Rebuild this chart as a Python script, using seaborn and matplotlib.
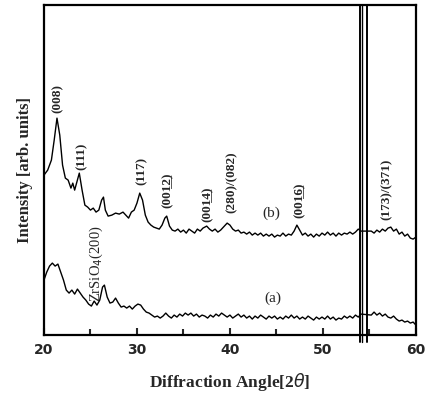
import numpy as np
import pandas as pd
import matplotlib
matplotlib.use("Agg")
import matplotlib.pyplot as plt
import seaborn as sns

# ---- data (2theta, intensity in arb. units) ----
two_theta_b = [20.0, 20.4, 20.8, 21.1, 21.4, 21.7, 22.0, 22.3, 22.6, 22.9, 23.1, 23.3, 23.6, 23.8,
               24.1, 24.4, 24.7, 25.0, 25.3, 25.6, 25.9, 26.2, 26.4, 26.6, 26.9, 27.3, 27.7, 28.1,
               28.5, 28.8, 29.1, 29.4, 29.7, 30.0, 30.3, 30.6, 30.9, 31.2, 31.5, 31.8, 32.1, 32.4,
               32.7, 33.0, 33.2, 33.5, 33.8, 34.1, 34.4, 34.7, 35.0, 35.3, 35.6, 35.9, 36.2, 36.5,
               36.8, 37.1, 37.5, 37.8, 38.1, 38.4, 38.7, 39.0, 39.3, 39.7, 40.0, 40.3, 40.6, 40.9,
               41.2, 41.5, 41.8, 42.1, 42.4, 42.7, 43.0, 43.3, 43.6, 43.9, 44.2, 44.5, 44.8, 45.1,
               45.4, 45.7, 46.0, 46.3, 46.6, 46.9, 47.2, 47.5, 47.8, 48.1, 48.4, 48.7, 49.0, 49.3,
               49.6, 49.9, 50.2, 50.5, 50.8, 51.1, 51.4, 51.7, 52.0, 52.3, 52.6, 52.9, 53.2, 53.5,
               53.8, 54.1, 55.2, 55.5, 55.8, 56.1, 56.4, 56.7, 57.0, 57.3, 57.6, 57.9, 58.2, 58.5,
               58.8, 59.1, 59.4, 59.7, 60.0]
intensity_b = [160, 165, 175, 195, 217, 200, 170, 157, 155, 147, 152, 145, 155, 162,
               145, 130, 128, 125, 127, 123, 125, 135, 138, 125, 119, 120, 122, 121,
               123, 120, 117, 123, 125, 132, 142, 135, 120, 113, 110, 108, 107, 106,
               110, 117, 119, 109, 105, 104, 106, 103, 105, 102, 106, 104, 102, 106,
               104, 107, 109, 106, 104, 106, 103, 105, 108, 112, 110, 106, 104, 105,
               102, 103, 101, 103, 100, 102, 100, 102, 99, 101, 99, 101, 98, 100,
               99, 102, 99, 101, 100, 104, 110, 105, 100, 102, 99, 101, 98, 101,
               99, 102, 100, 103, 100, 102, 99, 102, 100, 102, 101, 103, 101, 103,
               106, 104, 104, 102, 105, 103, 106, 104, 107, 108, 104, 106, 101, 103,
               99, 101, 97, 96, 98]

two_theta_a = [20.0, 20.3, 20.6, 20.9, 21.2, 21.5, 21.8, 22.1, 22.4, 22.7, 23.0, 23.3, 23.6, 23.9,
               24.2, 24.5, 24.8, 25.1, 25.4, 25.7, 26.0, 26.3, 26.5, 26.8, 27.1, 27.4, 27.7, 28.0,
               28.3, 28.6, 28.9, 29.2, 29.5, 29.8, 30.1, 30.4, 30.7, 31.0, 31.3, 31.6, 31.9, 32.2,
               32.5, 32.8, 33.1, 33.4, 33.7, 34.0, 34.3, 34.6, 34.9, 35.2, 35.5, 35.8, 36.1, 36.4,
               36.7, 37.0, 37.3, 37.6, 37.9, 38.2, 38.5, 38.8, 39.1, 39.4, 39.7, 40.0, 40.3, 40.6,
               40.9, 41.2, 41.5, 41.8, 42.1, 42.4, 42.7, 43.0, 43.3, 43.6, 43.9, 44.2, 44.5, 44.8,
               45.1, 45.4, 45.7, 46.0, 46.3, 46.6, 46.9, 47.2, 47.5, 47.8, 48.1, 48.4, 48.7, 49.0,
               49.3, 49.6, 49.9, 50.2, 50.5, 50.8, 51.1, 51.4, 51.7, 52.0, 52.3, 52.6, 52.9, 53.2,
               53.5, 53.8, 54.1, 55.2, 55.5, 55.8, 56.1, 56.4, 56.7, 57.0, 57.3, 57.6, 57.9, 58.2,
               58.5, 58.8, 59.1, 59.4, 59.7, 60.0]
intensity_a = [55, 63, 69, 72, 69, 71, 63, 55, 45, 42, 45, 41, 46, 42,
               38, 35, 31, 29, 34, 30, 35, 48, 50, 38, 32, 33, 37, 32,
               28, 29, 27, 29, 26, 29, 31, 30, 26, 23, 22, 20, 18, 19,
               17, 19, 22, 19, 17, 20, 18, 21, 19, 22, 20, 22, 19, 21,
               18, 20, 19, 17, 20, 18, 21, 19, 22, 20, 18, 20, 17, 19,
               21, 18, 20, 17, 19, 16, 19, 17, 20, 18, 16, 19, 17, 19,
               16, 18, 16, 19, 17, 20, 17, 19, 16, 18, 16, 19, 17, 15,
               18, 16, 18, 16, 19, 16, 18, 15, 17, 16, 19, 17, 19, 17,
               20, 18, 21, 20, 23, 20, 22, 19, 21, 18, 17, 19, 16, 14,
               15, 13, 14, 12, 13, 10]

# peak labels: text, 2theta, intensity at label bottom
peak_labels = ["(008)", "(111)", "(117)", "(001\u03322\u0332)", "(001\u03324\u0332)",
               "(280)/(082)", "(001\u03326\u0332)", "(173)/(371)"]
peak_label_x = [21.5, 24.0, 30.5, 33.3, 37.6, 40.2, 47.5, 56.8]
peak_label_y = [222, 165, 150, 127, 113, 122, 117, 115]

zr_label = "ZrSiO$_4$(200)"
zr_label_x, zr_label_y = 25.6, 33
curve_names = ["(b)", "(a)"]
curve_name_x = [44.4, 44.6]
curve_name_y = [122, 37]

break_positions = [54.0, 54.25, 54.75]
x_ticks = [20, 30, 40, 50, 60]
x_minor_ticks = [25, 35, 45, 55]

df = pd.concat([
    pd.DataFrame({"two_theta": two_theta_b, "intensity": intensity_b, "sample": "b"}),
    pd.DataFrame({"two_theta": two_theta_a, "intensity": intensity_a, "sample": "a"}),
])

sns.set_style("ticks")
serif = ["Liberation Serif", "DejaVu Serif"]

fig = plt.figure(figsize=(4.31, 3.97), dpi=100)
ax = fig.add_axes([0.102, 0.156, 0.863, 0.831])

sns.lineplot(data=df, x="two_theta", y="intensity", units="sample", estimator=None,
             color="black", linewidth=1.0, sort=False, ax=ax)

for xb, lw in zip(break_positions, [1.4, 1.0, 1.4]):
    ax.axvline(xb, ymin=-0.022, ymax=1.0, color="black", linewidth=lw, clip_on=False)

ax.set_xlim(20, 60)
ax.set_ylim(0, 330)
ax.set_xticks(x_ticks)
ax.set_xticks(x_minor_ticks, minor=True)
ax.set_yticks([])
ax.tick_params(axis="x", which="major", direction="in", length=5, width=1.5, pad=6)
ax.tick_params(axis="x", which="minor", direction="in", length=4, width=1.5)
for lab in ax.get_xticklabels():
    lab.set_fontfamily(["DejaVu Sans"])
    lab.set_fontweight("bold")
    lab.set_fontsize(10)
for sp in ax.spines.values():
    sp.set_linewidth(1.6)
    sp.set_color("black")

ax.set_xlabel("Diffraction Angle[2$\\theta$]", fontfamily=serif, fontweight="bold",
              fontsize=12.5, labelpad=10)
ax.set_ylabel("Intensity [arb. units]", fontfamily=serif, fontweight="bold",
              fontsize=12, labelpad=8)

for t, x, y in zip(peak_labels, peak_label_x, peak_label_y):
    ax.text(x, y, t, rotation=90, ha="center", va="bottom", fontfamily=serif,
            fontweight="bold", fontsize=9.5)
ax.text(zr_label_x, zr_label_y, zr_label, rotation=90, ha="center", va="bottom",
        fontfamily=serif, fontsize=10.5)
for t, x, y in zip(curve_names, curve_name_x, curve_name_y):
    ax.text(x, y, t, ha="center", va="center", fontfamily=serif, fontsize=11)

fig.savefig("out.png", dpi=100)
